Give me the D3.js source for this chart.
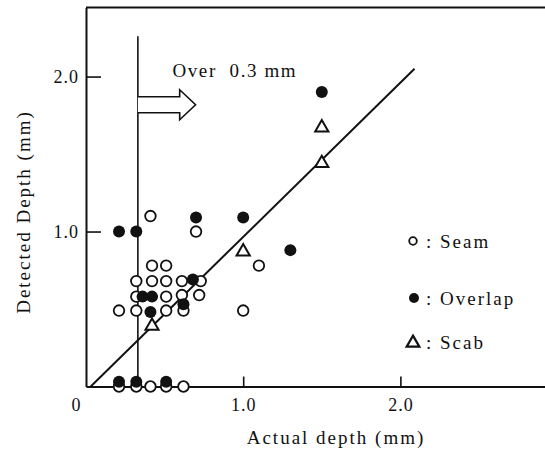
<!DOCTYPE html>
<html>
<head>
<meta charset="utf-8">
<script src="https://cdnjs.cloudflare.com/ajax/libs/d3/7.8.5/d3.min.js"></script>
<style>
  body { margin: 0; background: #fff; }
  svg text { font-family: "Liberation Serif", "Times New Roman", serif; fill: #111; }
</style>
</head>
<body>
<svg id="chart" width="545" height="450"></svg>
<script>
// detected vs actual depth (mm)
var seam = [
  [0.42, 0.78], [0.51, 0.78],
  [0.32, 0.68], [0.42, 0.68], [0.51, 0.68], [0.61, 0.68], [0.73, 0.68],
  [0.32, 0.58], [0.51, 0.58], [0.61, 0.59], [0.72, 0.59],
  [0.21, 0.49], [0.32, 0.49], [0.51, 0.49], [0.62, 0.49], [1.0, 0.49],
  [0.41, 1.10], [0.70, 1.00], [1.10, 0.78],
  [0.21, 0.0], [0.32, 0.0], [0.41, 0.0], [0.51, 0.0], [0.62, 0.0]
];
var overlap = [
  [0.21, 1.0], [0.32, 1.0], [0.70, 1.09], [1.0, 1.09], [1.30, 0.88], [1.50, 1.90],
  [0.36, 0.58], [0.42, 0.58], [0.41, 0.48], [0.68, 0.69], [0.62, 0.53],
  [0.21, 0.03], [0.32, 0.03], [0.51, 0.03]
];
var scab = [[0.42, 0.40], [1.0, 0.88], [1.50, 1.45], [1.50, 1.68]];

var fitLine = [[0.03, 0.0], [2.09, 2.05]];
var threshold = 0.33;        // "Over 0.3 mm" boundary
var thresholdTop = 2.26;
var xTicks = [0, 1, 2];
var yTicks = [1, 2];
var legendItems = ["Seam", "Overlap", "Scab"];

var svg = d3.select("#chart");

var x = d3.scaleLinear().domain([0, 2.92]).range([86, 545]);
var y = d3.scaleLinear().domain([0, 2.445]).range([386.5, 7.6]);

var g = svg.append("g");

// x axis
var xAxis = g.append("g")
    .attr("transform", "translate(0," + y(0) + ")")
    .call(d3.axisBottom(x).tickValues(xTicks).tickSize(-10).tickSizeOuter(0).tickPadding(12)
        .tickFormat(function(d){ return d === 0 ? "0" : d3.format(".1f")(d); }));
xAxis.select(".domain").attr("stroke", "#111").attr("stroke-width", 2);
xAxis.selectAll(".tick line").attr("stroke", "#111").attr("stroke-width", 1.6)
    .filter(function(d){ return d === 0; }).remove();
xAxis.selectAll(".tick text").attr("font-size", 18).attr("letter-spacing", 1)
    .attr("dx", function(d){ return d === 0 ? -10 : 0; });

// y axis
var yAxis = g.append("g")
    .attr("transform", "translate(" + x(0) + ",0)")
    .call(d3.axisLeft(y).tickValues(yTicks).tickSize(-15).tickSizeOuter(0).tickPadding(7)
        .tickFormat(d3.format(".1f")));
yAxis.select(".domain").attr("stroke", "#111").attr("stroke-width", 2);
yAxis.selectAll(".tick line").attr("stroke", "#111").attr("stroke-width", 1.6);
yAxis.selectAll(".tick text").attr("font-size", 18).attr("letter-spacing", 1);

// top frame line
g.append("line")
    .attr("x1", x(0)).attr("x2", x(2.92))
    .attr("y1", y(2.445)).attr("y2", y(2.445))
    .attr("stroke", "#111").attr("stroke-width", 2);

// axis titles
svg.append("text")
    .attr("x", 336).attr("y", 444)
    .attr("text-anchor", "middle")
    .attr("font-size", 19).attr("letter-spacing", 2)
    .text("Actual depth (mm)");

svg.append("text")
    .attr("transform", "translate(30,212) rotate(-90)")
    .attr("text-anchor", "middle")
    .attr("font-size", 19).attr("letter-spacing", 2)
    .text("Detected Depth (mm)");

// threshold line + arrow
g.append("line")
    .attr("x1", x(threshold)).attr("x2", x(threshold))
    .attr("y1", y(thresholdTop)).attr("y2", y(0))
    .attr("stroke", "#111").attr("stroke-width", 1.6);

var ay = y(1.818), ax0 = x(threshold), ax1 = x(0.596), ax2 = x(0.697);
g.append("path")
    .attr("d", "M" + ax0 + "," + (ay - 8) + "L" + ax1 + "," + (ay - 8) + "L" + ax1 + "," + (ay - 15) +
               "L" + ax2 + "," + ay + "L" + ax1 + "," + (ay + 15) + "L" + ax1 + "," + (ay + 8) +
               "L" + ax0 + "," + (ay + 8))
    .attr("fill", "#fff").attr("stroke", "#111").attr("stroke-width", 1.6);

svg.append("text")
    .attr("x", x(0.55)).attr("y", y(1.995))
    .attr("font-size", 19).attr("letter-spacing", 1.6)
    .attr("xml:space", "preserve")
    .text("Over  0.3 mm");

// fitted line
var line = d3.line().x(function(d){ return x(d[0]); }).y(function(d){ return y(d[1]); });
g.append("path")
    .datum(fitLine)
    .attr("d", line)
    .attr("fill", "none").attr("stroke", "#111").attr("stroke-width", 2);

// points
g.selectAll(".seam")
    .data(seam)
    .enter()
    .append("circle")
    .attr("class", "seam")
    .attr("cx", function(d){ return x(d[0]); })
    .attr("cy", function(d){ return y(d[1]); })
    .attr("r", 5.3)
    .attr("fill", "#fff").attr("stroke", "#111").attr("stroke-width", 1.8);

g.selectAll(".overlap")
    .data(overlap)
    .enter()
    .append("circle")
    .attr("class", "overlap")
    .attr("cx", function(d){ return x(d[0]); })
    .attr("cy", function(d){ return y(d[1]); })
    .attr("r", 6)
    .attr("fill", "#111");

var tri = d3.symbol().type(d3.symbolTriangle).size(75);
g.selectAll(".scab")
    .data(scab)
    .enter()
    .append("path")
    .attr("class", "scab")
    .attr("d", tri)
    .attr("transform", function(d){ return "translate(" + x(d[0]) + "," + (y(d[1]) + 1.5) + ")"; })
    .attr("fill", "#fff").attr("stroke", "#111").attr("stroke-width", 2);

// legend
var legendY = [241, 298, 342];
var leg = svg.append("g");
leg.append("circle").attr("cx", 413).attr("cy", legendY[0]).attr("r", 3.8)
    .attr("fill", "#fff").attr("stroke", "#111").attr("stroke-width", 1.8);
leg.append("circle").attr("cx", 414).attr("cy", legendY[1]).attr("r", 5)
    .attr("fill", "#111");
leg.append("path").attr("d", d3.symbol().type(d3.symbolTriangle).size(70))
    .attr("transform", "translate(413," + (legendY[2] + 1) + ")")
    .attr("fill", "#fff").attr("stroke", "#111").attr("stroke-width", 2.2);

leg.selectAll(".leglabel")
    .data(legendItems)
    .enter()
    .append("text")
    .attr("class", "leglabel")
    .attr("x", 426)
    .attr("y", function(d, i){ return legendY[i] + 7; })
    .attr("font-size", 19).attr("letter-spacing", 2)
    .attr("xml:space", "preserve")
    .text(function(d){ return ": " + d; });
</script>
</body>
</html>
